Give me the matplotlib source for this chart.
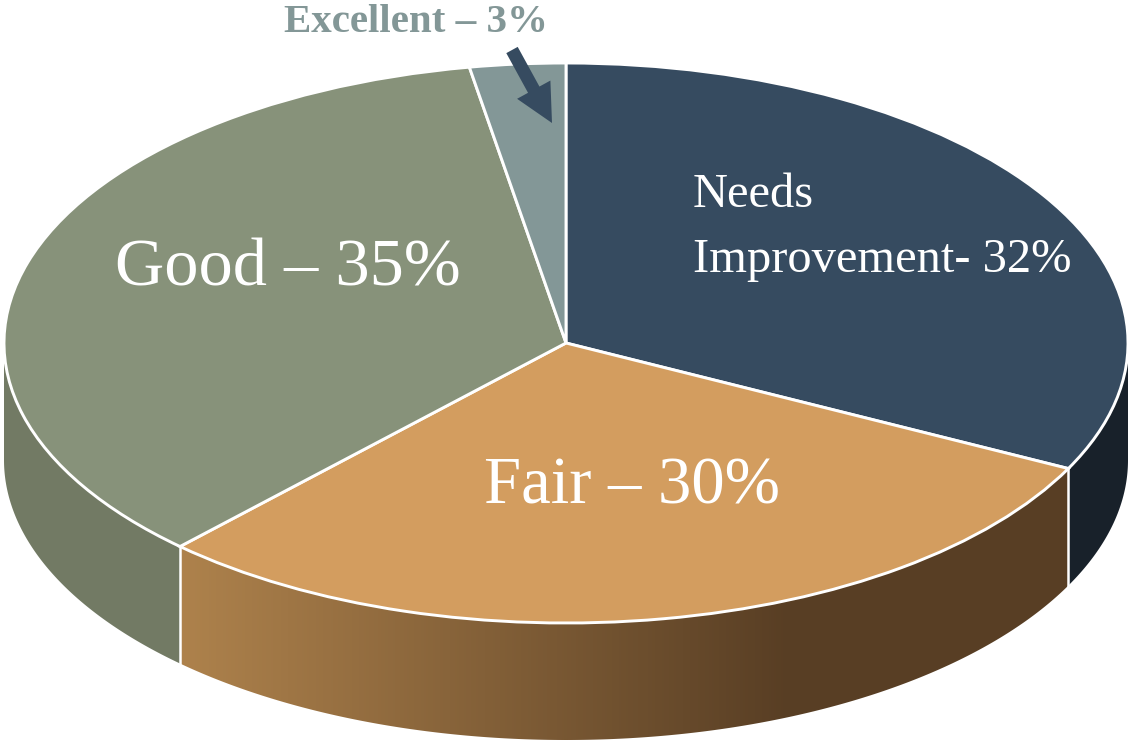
import numpy as np
import matplotlib
matplotlib.use("Agg")
import matplotlib.pyplot as plt
from matplotlib.patches import Polygon, FancyArrow
from matplotlib.transforms import Affine2D
from matplotlib.colors import LinearSegmentedColormap

categories = ["Needs Improvement", "Fair", "Good", "Excellent"]
values = [32.4, 29.65, 35.2, 2.75]
top_colors = ["#364B60", "#D39D5F", "#87927A", "#839797"]
label_needs = ["Needs", "Improvement- 32%"]
label_fair = "Fair \u2013 30%"
label_good = "Good \u2013 35%"
label_excellent = "Excellent \u2013 3%"

W, H = 1129, 740
CX, CY, RX, RY, DEPTH = 566.0, 343.0, 562.0, 280.0, 117.0

fig = plt.figure(figsize=(W / 100, H / 100), dpi=100, facecolor="white")
ax = fig.add_axes([0, 0, 1, 1])
px = Affine2D().scale(1, -1).translate(0, H)  # reference pixel coordinates

depth_u = DEPTH / RY
fractions = np.cumsum([0] + values) / sum(values)
theta = fractions * 2 * np.pi  # clockwise from the top


def side_polygon(a, b):
    """Visible rim of a slice between clockwise angles a and b."""
    a, b = max(a, np.pi / 2), min(b, 3 * np.pi / 2)
    if b <= a:
        return None
    t = np.linspace(a, b, 300)
    x, y = np.sin(t), np.cos(t)
    return np.vstack([np.column_stack([x, y]),
                      np.column_stack([x[::-1], y[::-1] - depth_u])])


def x_u(p):
    return (p - CX) / RX


extent = [x_u(0), x_u(W), (CY - H) / RY, CY / RY]
grad_fair = LinearSegmentedColormap.from_list("f", [(0, "#AE824C"), (1, "#583E24")])
flat = {0: "#18212A", 2: "#727A64"}

for i in range(len(values)):
    poly = side_polygon(theta[i], theta[i + 1])
    if poly is None:
        continue
    if i == 1:
        g = np.clip((np.arange(W) - 180) / (790 - 180), 0, 1)[None, :]
        im = ax.imshow(g, cmap=grad_fair, vmin=0, vmax=1, extent=extent,
                       aspect="auto", origin="lower", zorder=1)
        clip = Polygon(poly, closed=True, transform=ax.transData)
        im.set_clip_path(clip)
    else:
        ax.add_patch(Polygon(poly, closed=True, facecolor=flat[i],
                             edgecolor="none", zorder=1))

# vertical white seams where slices meet on the visible rim
for t in theta:
    if np.pi / 2 < t < 3 * np.pi / 2:
        ax.plot([np.sin(t)] * 2, [np.cos(t), np.cos(t) - depth_u],
                color="white", lw=1.8, zorder=2)

wedges, _ = ax.pie(values, colors=top_colors, startangle=90, counterclock=False,
                   radius=1, center=(0, 0), frame=False,
                   wedgeprops=dict(edgecolor="white", linewidth=2.1, zorder=3))
for w in wedges:
    w.set_zorder(3)

ax.set_aspect("auto")
ax.set_xlim(extent[0], extent[1])
ax.set_ylim(extent[2], extent[3])
ax.axis("off")

serif = "Liberation Serif"
tx = dict(transform=px, family=serif, va="baseline", ha="left", zorder=5)
ax.text(115, 285, label_good, color="white", fontsize=49.2, **tx)
ax.text(484, 504, label_fair, color="white", fontsize=48, **tx)
ax.text(693, 207, label_needs[0], color="white", fontsize=34.9, **tx)
ax.text(693, 272, label_needs[1], color="white", fontsize=34.9, **tx)
ax.text(284, 32, label_excellent, color="#839797", fontsize=29.5,
        fontweight="bold", **tx)

ax.add_patch(FancyArrow(512, 50, 40, 73, width=13, head_width=38, head_length=38,
                        length_includes_head=True, facecolor="#364B60",
                        edgecolor="none", transform=px, zorder=6))

fig.savefig("out.png", dpi=100, facecolor="white")
